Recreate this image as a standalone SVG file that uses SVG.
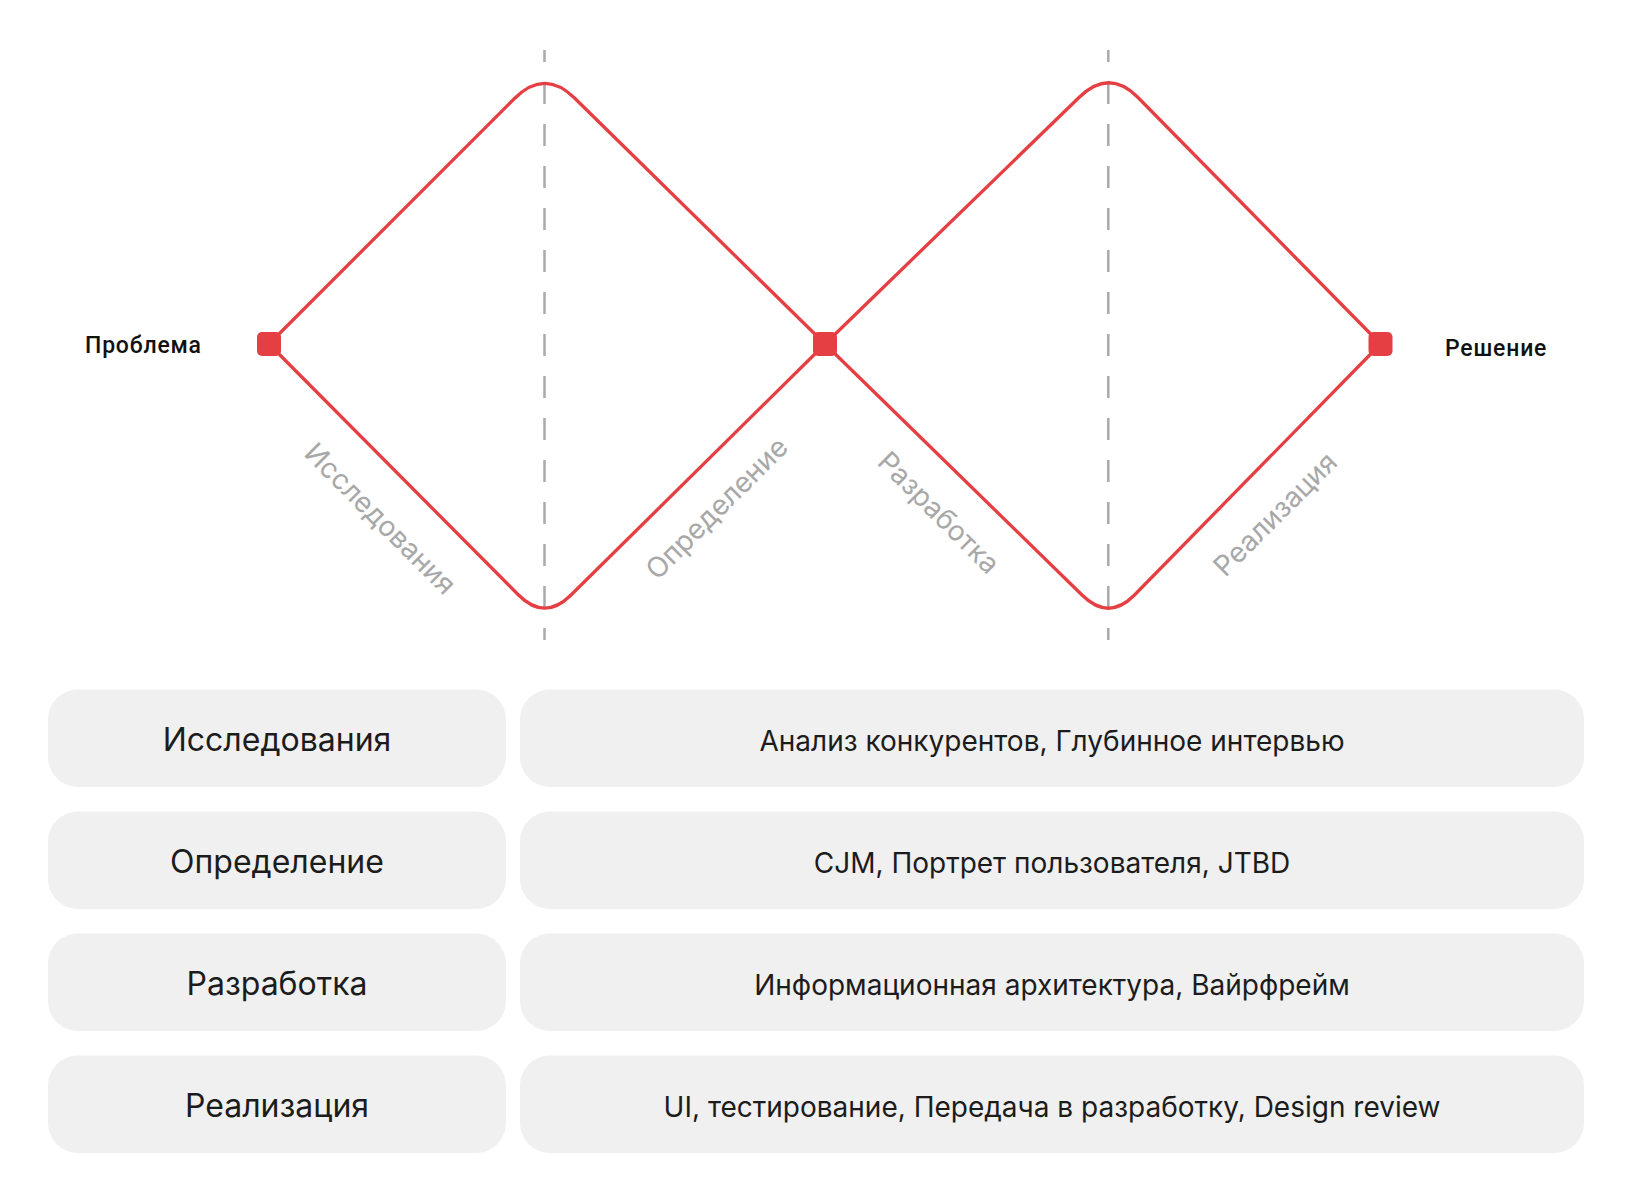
<svg xmlns="http://www.w3.org/2000/svg" width="1632" height="1201" viewBox="0 0 1632 1201">
  <style>
    .curve { fill: none; stroke: #e53e43; stroke-width: 3.3; stroke-linejoin: round; }
    .guide { stroke: #a9a9a9; stroke-width: 2.5; stroke-dasharray: 22 20; stroke-dashoffset: 10; }
    .pt { fill: #e53e43; }
    .end { font-family: Roboto, "Liberation Sans", sans-serif; font-weight: 500; font-size: 23px; letter-spacing: 0.8px; fill: #111111; }
    .phase { font-family: Inter, "Liberation Sans", sans-serif; font-size: 28px; fill: #a8a8a8; text-anchor: middle; dominant-baseline: central; }
    .box { fill: #f0f0f0; }
    .lbl { font-family: Inter, "Liberation Sans", sans-serif; font-size: 32px; fill: #1c1c1c; text-anchor: middle; }
    .desc { font-family: Inter, "Liberation Sans", sans-serif; font-size: 28px; fill: #1c1c1c; text-anchor: middle; }
  </style>
  <rect width="1632" height="1201" fill="#ffffff"/>

  <g id="guides">
    <line class="guide" x1="544.5" y1="50" x2="544.5" y2="640"/>
    <line class="guide" x1="1108.3" y1="50" x2="1108.3" y2="640"/>
  </g>

  <g id="connectors">
    <path class="curve" d="M269,344 L514.5,98.5 Q544.5,68.5 574.5,98 L825,344 L1079,97.5 Q1108.3,68.5 1137,96.5 L1380.5,344"/>
    <path class="curve" d="M269,344 L518.5,595 Q544.5,621 570.5,595.5 L825,344 L1082,595 Q1108.3,621 1134,595.5 L1380.5,344"/>
  </g>

  <g id="node-problem">
    <rect class="pt" x="257" y="332" width="24" height="24" rx="5"/>
    <text class="end" x="85" y="353">Проблема</text>
  </g>
  <g id="node-middle">
    <rect class="pt" x="813" y="332" width="24" height="24" rx="5"/>
  </g>
  <g id="node-solution">
    <rect class="pt" x="1368.5" y="332" width="24" height="24" rx="5"/>
    <text class="end" x="1445" y="356">Решение</text>
  </g>

  <g id="phase-labels">
    <text class="phase" transform="translate(380.5,518.5) rotate(45)">Исследования</text>
    <text class="phase" transform="translate(716.5,508) rotate(-45)">Определение</text>
    <text class="phase" transform="translate(939,512.5) rotate(45)">Разработка</text>
    <text class="phase" transform="translate(1275,514) rotate(-45)">Реализация</text>
  </g>

  <g id="row-research">
    <rect class="box" x="48" y="689.5" width="458" height="97.5" rx="30"/>
    <text class="lbl" x="277" y="751">Исследования</text>
    <rect class="box" x="520" y="689.5" width="1064" height="97.5" rx="30"/>
    <text class="desc" x="1052" y="751">Анализ конкурентов, Глубинное интервью</text>
  </g>
  <g id="row-definition">
    <rect class="box" x="48" y="811.5" width="458" height="97.5" rx="30"/>
    <text class="lbl" x="277" y="873">Определение</text>
    <rect class="box" x="520" y="811.5" width="1064" height="97.5" rx="30"/>
    <text class="desc" x="1052" y="873">CJM, Портрет пользователя, JTBD</text>
  </g>
  <g id="row-development">
    <rect class="box" x="48" y="933.5" width="458" height="97.5" rx="30"/>
    <text class="lbl" x="277" y="995">Разработка</text>
    <rect class="box" x="520" y="933.5" width="1064" height="97.5" rx="30"/>
    <text class="desc" x="1052" y="995">Информационная архитектура, Вайрфрейм</text>
  </g>
  <g id="row-delivery">
    <rect class="box" x="48" y="1055.5" width="458" height="97.5" rx="30"/>
    <text class="lbl" x="277" y="1117">Реализация</text>
    <rect class="box" x="520" y="1055.5" width="1064" height="97.5" rx="30"/>
    <text class="desc" x="1052" y="1117">UI, тестирование, Передача в разработку, Design review</text>
  </g>
</svg>
